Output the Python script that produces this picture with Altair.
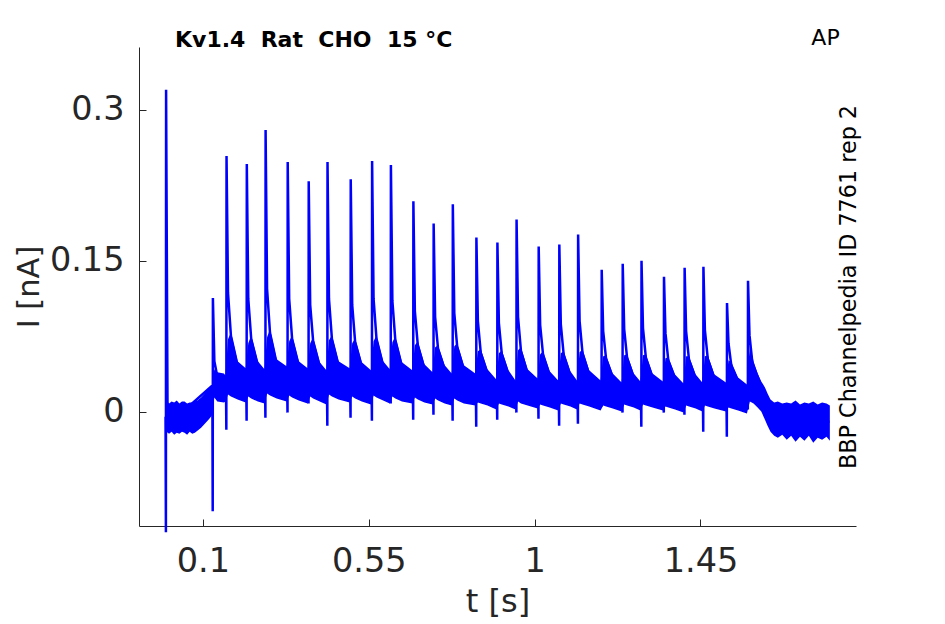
import altair as alt
import pandas as pd

# ---------------- data ----------------
# spike times [s] and values [nA]
spike_t = [0.000, 0.127, 0.164, 0.219, 0.270, 0.330, 0.387, 0.438, 0.501, 0.559,
           0.610, 0.671, 0.726, 0.778, 0.842, 0.899, 0.951, 1.011, 1.067, 1.118,
           1.182, 1.239, 1.290, 1.351, 1.407, 1.458, 1.522, 1.579]
spike_pre = [-0.005, 0.026, 0.025, 0.026, 0.027, 0.026, 0.026, 0.025, 0.025, 0.026,
             0.025, 0.025, 0.024, 0.024, 0.022, 0.020, 0.019, 0.018, 0.018, 0.017,
             0.017, 0.016, 0.016, 0.015, 0.015, 0.015, 0.014, 0.014]
spike_dip = [-0.120, -0.099, -0.018, -0.009, -0.006, -0.001, 0.008, -0.014, -0.006, -0.009,
             0.008, -0.008, -0.003, -0.009, -0.015, -0.008, -0.001, -0.007, -0.014, -0.012,
             0.005, -0.001, -0.015, -0.001, -0.003, -0.020, -0.025, 0.002]
spike_peak = [0.320, 0.113, 0.254, 0.246, 0.280, 0.248, 0.229, 0.248, 0.231, 0.249,
              0.245, 0.209, 0.187, 0.206, 0.173, 0.168, 0.191, 0.164, 0.166, 0.176,
              0.141, 0.147, 0.150, 0.134, 0.143, 0.144, 0.108, 0.130]
# decay after each spike, sampled at the offsets below
tail_offsets = [0.004, 0.012, 0.030]
tail_a = [-0.005, 0.050, 0.118, 0.112, 0.122, 0.112, 0.106, 0.112, 0.106, 0.112,
          0.110, 0.100, 0.094, 0.098, 0.090, 0.088, 0.094, 0.086, 0.087, 0.090,
          0.080, 0.082, 0.083, 0.078, 0.080, 0.081, 0.068, 0.076]
tail_b = [-0.005, 0.035, 0.075, 0.072, 0.078, 0.072, 0.070, 0.072, 0.069, 0.072,
          0.071, 0.066, 0.062, 0.064, 0.058, 0.057, 0.060, 0.056, 0.056, 0.058,
          0.052, 0.053, 0.053, 0.050, 0.051, 0.052, 0.045, 0.048]
tail_c = [-0.005, 0.030, 0.046, 0.046, 0.048, 0.046, 0.045, 0.046, 0.045, 0.046,
          0.045, 0.043, 0.042, 0.042, 0.038, 0.037, 0.038, 0.036, 0.036, 0.037,
          0.034, 0.034, 0.034, 0.033, 0.033, 0.033, 0.030, 0.031]
end_t = [1.640, 1.800]
end_v = [-0.008, -0.010]

# noise envelope before the stimulus train
pre_t = [0.001, 0.008, 0.015, 0.022, 0.029, 0.036, 0.043, 0.050, 0.057, 0.064,
         0.071, 0.078, 0.085, 0.095, 0.105, 0.115, 0.124]
pre_lo = [-0.020, -0.022, -0.020, -0.023, -0.021, -0.022, -0.020, -0.021, -0.023, -0.020,
          -0.022, -0.021, -0.019, -0.016, -0.012, -0.008, -0.004]
pre_hi = [0.011, 0.008, 0.010, 0.009, 0.011, 0.008, 0.010, 0.010, 0.008, 0.009,
          0.009, 0.010, 0.011, 0.014, 0.018, 0.022, 0.026]
# noise envelope between spikes (after spike 2 .. spike 27): +4 ms, +12 ms, +30 ms, 3 ms before next
band_offsets = [0.004, 0.012, 0.030, -0.003]
band_hi_a = [0.042, 0.072, 0.068, 0.074, 0.070, 0.068, 0.071, 0.068, 0.070, 0.069,
             0.066, 0.064, 0.065, 0.060, 0.058, 0.061, 0.057, 0.058, 0.059, 0.055,
             0.056, 0.056, 0.053, 0.055, 0.055, 0.051]
band_lo_a = [0.014, 0.017, 0.015, 0.018, 0.016, 0.015, 0.017, 0.015, 0.016, 0.015,
             0.014, 0.013, 0.013, 0.009, 0.008, 0.010, 0.007, 0.008, 0.008, 0.006,
             0.007, 0.007, 0.005, 0.006, 0.006, 0.004]
band_hi_b = [0.039, 0.079, 0.076, 0.082, 0.076, 0.074, 0.076, 0.073, 0.076, 0.075,
             0.070, 0.066, 0.068, 0.062, 0.061, 0.064, 0.060, 0.060, 0.062, 0.056,
             0.057, 0.057, 0.054, 0.055, 0.056, 0.049]
band_lo_b = [0.010, 0.015, 0.013, 0.016, 0.014, 0.013, 0.015, 0.013, 0.014, 0.013,
             0.012, 0.011, 0.011, 0.008, 0.007, 0.008, 0.006, 0.007, 0.007, 0.005,
             0.006, 0.006, 0.004, 0.005, 0.005, 0.003]
band_hi_c = [0.038, 0.050, 0.050, 0.052, 0.050, 0.049, 0.050, 0.049, 0.050, 0.049,
             0.047, 0.046, 0.046, 0.042, 0.041, 0.042, 0.040, 0.040, 0.041, 0.038,
             0.038, 0.038, 0.037, 0.037, 0.037, 0.034]
band_lo_c = [0.009, 0.012, 0.010, 0.013, 0.011, 0.010, 0.012, 0.010, 0.011, 0.010,
             0.009, 0.008, 0.008, 0.006, 0.005, 0.006, 0.004, 0.005, 0.005, 0.003,
             0.004, 0.004, 0.002, 0.003, 0.003, 0.001]
band_hi_d = [0.036, 0.043, 0.042, 0.045, 0.043, 0.041, 0.043, 0.041, 0.042, 0.041,
             0.039, 0.038, 0.038, 0.032, 0.031, 0.033, 0.031, 0.031, 0.031, 0.029,
             0.030, 0.030, 0.028, 0.029, 0.029, 0.027]
band_lo_d = [0.010, 0.009, 0.008, 0.010, 0.008, 0.007, 0.009, 0.007, 0.008, 0.008,
             0.007, 0.006, 0.006, 0.002, 0.002, 0.003, 0.001, 0.002, 0.001, 0.000,
             0.001, 0.001, -0.001, 0.000, 0.000, -0.002]
# noise envelope after the last spike (return to baseline)
post_t = [1.584, 1.594, 1.605, 1.615, 1.625, 1.632, 1.640, 1.650, 1.660, 1.672,
          1.684, 1.696, 1.708, 1.720, 1.732, 1.744, 1.756, 1.768, 1.780, 1.792, 1.801]
post_lo = [0.010, 0.008, 0.004, 0.000, -0.008, -0.014, -0.020, -0.024, -0.026, -0.023,
           -0.028, -0.024, -0.030, -0.025, -0.029, -0.024, -0.031, -0.026, -0.028, -0.025, -0.029]
post_hi = [0.066, 0.050, 0.038, 0.030, 0.024, 0.018, 0.012, 0.009, 0.010, 0.008,
           0.009, 0.008, 0.011, 0.007, 0.009, 0.008, 0.010, 0.007, 0.009, 0.008, 0.006]

x_ticks = [0.1, 0.55, 1.0, 1.45]
y_ticks = [0.0, 0.15, 0.3]
x_domain = [-0.0735, 1.872]
y_domain = [-0.1137, 0.3624]

title_text = "Kv1.4\u00a0\u00a0Rat\u00a0\u00a0CHO\u00a0\u00a015\u00a0°C"
corner_text = "AP"
side_text = "BBP Channelpedia ID 7761 rep 2"

# ---------------- tables ----------------
line_rows = []
for i, t in enumerate(spike_t):
    line_rows += [(t - 0.0015, spike_pre[i]), (t - 0.0005, spike_dip[i]), (t, spike_peak[i]),
                  (t + tail_offsets[0], tail_a[i]), (t + tail_offsets[1], tail_b[i]),
                  (t + tail_offsets[2], tail_c[i])]
line_rows += list(zip(end_t, end_v))
line_df = pd.DataFrame(line_rows, columns=["t", "v"])
line_df["i"] = range(len(line_df))

band_rows = list(zip(pre_t, pre_lo, pre_hi))
his = [band_hi_a, band_hi_b, band_hi_c, band_hi_d]
los = [band_lo_a, band_lo_b, band_lo_c, band_lo_d]
for k in range(1, len(spike_t) - 1):
    for j, off in enumerate(band_offsets):
        base = spike_t[k] if off > 0 else spike_t[k + 1]
        band_rows.append((base + off, los[j][k - 1], his[j][k - 1]))
band_rows += list(zip(post_t, post_lo, post_hi))
band_df = pd.DataFrame(band_rows, columns=["t", "lo", "hi"])

W, H = 717, 479
BLUE = "#0000ff"
AX = "#262626"
FONT = "DejaVu Sans"

xs = alt.Scale(domain=x_domain, nice=False, zero=False)
ys = alt.Scale(domain=y_domain, nice=False, zero=False)

band = alt.Chart(band_df).mark_area(color=BLUE, opacity=1, clip=False, orient="vertical").encode(
    x=alt.X("t:Q", scale=xs, title="t [s]",
            axis=alt.Axis(values=x_ticks, format=".2~f", tickSize=0, grid=False,
                          labelPadding=19, titlePadding=9, domainColor=AX, domainWidth=1)),
    y=alt.Y("lo:Q", scale=ys, title="I [nA]",
            axis=alt.Axis(values=y_ticks, format=".2~f", tickSize=0, grid=False,
                          labelPadding=15, titlePadding=5, titleFontSize=30.5,
                          domainColor=AX, domainWidth=1)),
    y2="hi:Q",
)

line = alt.Chart(line_df).mark_line(color=BLUE, strokeWidth=2.5, clip=False).encode(
    x=alt.X("t:Q", scale=xs,
            axis=alt.Axis(orient="top", offset=-H, values=x_ticks, labels=False, domain=False,
                          tickSize=7, tickColor=AX, grid=False, title=None)),
    y=alt.Y("v:Q", scale=ys,
            axis=alt.Axis(orient="right", offset=-W, values=y_ticks, labels=False, domain=False,
                          tickSize=7, tickColor=AX, grid=False, title=None)),
    order="i:Q",
)

one = alt.Data(values=[{}])
title_mark = alt.Chart(one).mark_text(font=FONT, fontSize=22, fontWeight="bold", color="black",
                                      align="left", baseline="middle").encode(
    x=alt.value(36), y=alt.value(-7), text=alt.value(title_text))
corner_mark = alt.Chart(one).mark_text(font=FONT, fontSize=22, color="black",
                                       align="center", baseline="middle").encode(
    x=alt.value(686.5), y=alt.value(-9), text=alt.value(corner_text))
side_mark = alt.Chart(one).mark_text(font=FONT, fontSize=22.3, color="black", angle=270,
                                     align="center", baseline="middle").encode(
    x=alt.value(710), y=alt.value(240), text=alt.value(side_text))

chart = alt.layer(band, line, title_mark, corner_mark, side_mark).resolve_axis(
    x="independent", y="independent"
).properties(
    width=W, height=H,
    padding={"left": 131, "top": 39, "right": 70, "bottom": 96},
    autosize=alt.AutoSizeParams(type="none"),
).configure_view(stroke=None).configure_axis(
    labelFont=FONT, labelFontSize=33.5, labelColor=AX,
    titleFont=FONT, titleFontSize=32, titleFontWeight="normal", titleColor=AX,
)

chart.save("out.html", embed_options={"renderer": "svg", "actions": False})
